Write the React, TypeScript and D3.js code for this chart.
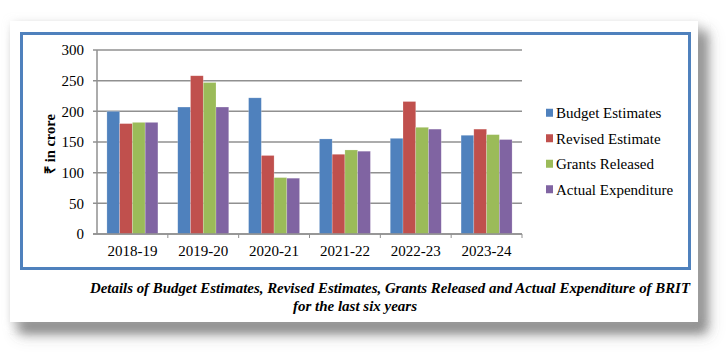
import { scaleBand, scaleLinear } from 'd3'

const years = ['2018-19', '2019-20', '2020-21', '2021-22', '2022-23', '2023-24']
const seriesNames = ['Budget Estimates', 'Revised Estimate', 'Grants Released', 'Actual Expenditure']
const budgetEstimates = [200, 207, 222, 155, 156, 161]
const revisedEstimate = [180, 258, 128, 130, 216, 171]
const grantsReleased = [182, 247, 92, 137, 174, 162]
const actualExpenditure = [182, 207, 91, 135, 171, 154]
const yTicks = [0, 50, 100, 150, 200, 250, 300]
const colors = ['#4F81BD', '#C0504D', '#9BBB59', '#8064A2']

const seriesValues = [budgetEstimates, revisedEstimate, grantsReleased, actualExpenditure]

const W = 728
const H = 364
const plot = { left: 97, right: 522, top: 50, bottom: 234 }
const serif = { fontFamily: 'Liberation Serif' }

const App = () => {
  const x = scaleBand()
    .domain(years)
    .range([plot.left, plot.right])
    .paddingInner(0.28)
    .paddingOuter(0.14)

  const xs = scaleBand()
    .domain(seriesNames)
    .range([0, x.bandwidth()])

  const y = scaleLinear()
    .domain([0, 300])
    .range([plot.bottom, plot.top])

  const legend = scaleBand()
    .domain(seriesNames)
    .range([100, 202])

  return (
    <div style={{ position: 'absolute', left: 0, top: 0 }}>
      <svg width={W} height={H} style={{ display: 'block', background: '#fff' }}>
        <defs>
          <filter id='shadow' x='-5%' y='-10%' width='115%' height='130%'>
            <feDropShadow dx='2' dy='2' stdDeviation='5' floodColor='#bbb' floodOpacity='0.5' />
            <feDropShadow dx='8' dy='10' stdDeviation='6' floodColor='#555' floodOpacity='0.8' />
          </filter>
        </defs>

        {/* card */}
        <rect x={10} y={21} width={688} height={301} fill='#fff' filter='url(#shadow)' />
        <rect x={21.5} y={33.5} width={668} height={235} fill='#fff' stroke='#4F81BD' strokeWidth={3} />

        {/* grid */}
        {yTicks.map(t => (
          <g key={t}>
            <line x1={plot.left - 4} x2={plot.right} y1={y(t)} y2={y(t)} stroke='#909090' strokeWidth={1.5} />
            <text x={84} y={y(t)} dy='0.35em' textAnchor='end' style={serif} fontSize={15} fill='#000'>
              {t}
            </text>
          </g>
        ))}
        <line x1={plot.left} x2={plot.left} y1={plot.top} y2={plot.bottom} stroke='#909090' strokeWidth={1.5} />

        {/* bars */}
        {years.map((yr, i) => (
          <g key={yr} transform={`translate(${x(yr)}, 0)`}>
            {seriesNames.map((s, j) => (
              <rect
                key={s}
                x={xs(s)!}
                y={y(seriesValues[j][i])}
                width={xs.bandwidth()}
                height={plot.bottom - y(seriesValues[j][i])}
                fill={colors[j]}
                stroke='#fff'
                strokeOpacity={0.35}
                strokeWidth={0.6}
              />
            ))}
          </g>
        ))}
        <line x1={plot.left - 4} x2={plot.right} y1={plot.bottom} y2={plot.bottom} stroke='#909090' strokeWidth={1.5} />
        {years.map((yr, i) => (
          <line key={'t' + yr} x1={plot.left + x.step() * (i + 1)} x2={plot.left + x.step() * (i + 1)}
            y1={plot.bottom} y2={plot.bottom + 4} stroke='#909090' strokeWidth={1} />
        ))}

        {/* x labels */}
        {years.map(yr => (
          <text key={'l' + yr} x={x(yr)! + x.bandwidth() / 2} y={256} textAnchor='middle'
            style={serif} fontSize={15} fill='#000'>
            {yr}
          </text>
        ))}

        {/* y title */}
        <text transform='translate(55, 144) rotate(-90)' textAnchor='middle' style={serif}
          fontWeight='bold' fontSize={14.5} fill='#000'>
          ₹ in crore
        </text>

        {/* legend */}
        {seriesNames.map((s, j) => (
          <g key={'g' + s} transform={`translate(546, ${legend(s)! + legend.bandwidth() / 2})`}>
            <rect x={0} y={-4} width={7} height={8} fill={colors[j]} />
            <text x={10} y={0} dy='0.35em' style={serif} fontSize={15} fill='#000'>{s}</text>
          </g>
        ))}

        {/* caption */}
        <text x={90} y={293} style={serif} fontWeight='bold' fontStyle='italic' fontSize={14.5}
          textLength={600} lengthAdjust='spacingAndGlyphs' fill='#000'>
          Details of Budget Estimates, Revised Estimates, Grants Released and Actual Expenditure of BRIT
        </text>
        <text x={355} y={311} textAnchor='middle' style={serif} fontWeight='bold' fontStyle='italic'
          fontSize={14.5} textLength={124} lengthAdjust='spacingAndGlyphs' fill='#000'>
          for the last six years
        </text>
      </svg>
    </div>
  )
}

export default App
